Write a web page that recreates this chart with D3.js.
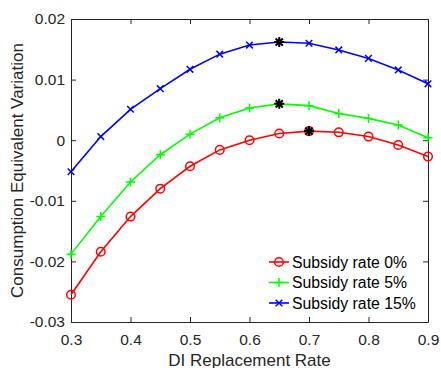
<!DOCTYPE html>
<html><head><meta charset="utf-8">
<script src="https://cdn.jsdelivr.net/npm/d3@7"></script>
<style>body{margin:0;background:#fff}svg{display:block}text{font-family:"Liberation Sans",Arial,sans-serif}</style>
</head><body>
<script>
const xs = [0.3,0.35,0.4,0.45,0.5,0.55,0.6,0.65,0.7,0.75,0.8,0.85,0.9];
const sub0 = [-0.0255,-0.0184,-0.0126,-0.0080,-0.0043,-0.0016,0.0000,0.0011,0.0015,0.0013,0.0006,-0.0008,-0.0027];
const sub5 = [-0.0188,-0.0126,-0.0069,-0.0024,0.0010,0.0037,0.0053,0.0060,0.0057,0.0044,0.0036,0.0025,0.0004];
const sub15 = [-0.0052,0.0006,0.0051,0.0085,0.0117,0.0142,0.0157,0.0162,0.0160,0.0149,0.0135,0.0116,0.0093];
const seriesNames = ["Subsidy rate 0%","Subsidy rate 5%","Subsidy rate 15%"];
const xTicks = [0.3,0.4,0.5,0.6,0.7,0.8,0.9];
const yTicks = [-0.03,-0.02,-0.01,0,0.01,0.02];
const yTickLabels = ["-0.03","-0.02","-0.01","0","0.01","0.02"];
const xLabel = "DI Replacement Rate";
const yLabel = "Consumption Equivalent Variation";

const W=441,H=368;
const m={l:71,r:13,t:19,b:46};
const svg=d3.select("body").append("svg").attr("width",W).attr("height",H);
const x=d3.scaleLinear().domain([0.3,0.9]).range([m.l,W-m.r]);
const y=d3.scaleLinear().domain([-0.03,0.02]).range([H-m.b,m.t]);
const axc="#262626";
const tl=5;
const g=svg.append("g");
const fs=15.5;
const xb=g.append("g").attr("transform",`translate(0,${H-m.b})`)
 .call(d3.axisBottom(x).tickValues(xTicks).tickFormat(d3.format(".1f")).tickSizeInner(-tl).tickSizeOuter(0).tickPadding(12));
const xt=g.append("g").attr("transform",`translate(0,${m.t})`)
 .call(d3.axisTop(x).tickValues(xTicks).tickFormat("").tickSizeInner(-tl).tickSizeOuter(0));
const yl=g.append("g").attr("transform",`translate(${m.l},0)`)
 .call(d3.axisLeft(y).tickValues(yTicks).tickFormat((d,i)=>yTickLabels[i]).tickSizeInner(-tl).tickSizeOuter(0).tickPadding(6));
const yr=g.append("g").attr("transform",`translate(${W-m.r},0)`)
 .call(d3.axisRight(y).tickValues(yTicks).tickFormat("").tickSizeInner(-tl).tickSizeOuter(0));
[xb,xt,yl,yr].forEach(a=>{a.selectAll("path,line").attr("stroke",axc).attr("stroke-width",1);
 a.selectAll("text").attr("fill",axc).style("font-size",fs+"px").style("font-family","'Liberation Sans',Arial,sans-serif");});
svg.append("text").attr("x",(m.l+W-m.r)/2).attr("y",366).attr("text-anchor","middle")
 .style("font-size","17px").attr("fill",axc).text(xLabel);
svg.append("text").attr("transform",`translate(23,${(m.t+H-m.b)/2}) rotate(-90)`).attr("text-anchor","middle")
 .style("font-size","17px").attr("fill",axc).text(yLabel);

const cols=["#ff0000","#00ff00","#0000ff"];
const data=[sub0,sub5,sub15];
const line=d3.line().x((d,i)=>x(xs[i])).y(d=>y(d));
function marker(sel,k,cx,cy){
  const c=cols[k];
  if(k===0) sel.append("circle").attr("cx",cx).attr("cy",cy).attr("r",4.3).attr("fill","none").attr("stroke",c).attr("stroke-width",1.5);
  else if(k===1){ const s=4.5; sel.append("path").attr("d",`M${cx-s},${cy}H${cx+s}M${cx},${cy-s}V${cy+s}`).attr("stroke",c).attr("stroke-width",1.5);}
  else { const s=3.3; sel.append("path").attr("d",`M${cx-s},${cy-s}L${cx+s},${cy+s}M${cx-s},${cy+s}L${cx+s},${cy-s}`).attr("stroke",c).attr("stroke-width",1.5);}
}
data.forEach((vals,k)=>{
  const gg=svg.append("g");
  gg.append("path").attr("d",line(vals)).attr("fill","none").attr("stroke",cols[k]).attr("stroke-width",1.6);
  vals.forEach((v,i)=>marker(gg,k,x(xs[i]),y(v)));
});
data.forEach(vals=>{
  const i=d3.maxIndex(vals); const cx=x(xs[i]), cy=y(vals[i]); const s=5, d=3.6;
  svg.append("path").attr("d",`M${cx-s},${cy}H${cx+s}M${cx},${cy-s}V${cy+s}M${cx-d},${cy-d}L${cx+d},${cy+d}M${cx-d},${cy+d}L${cx+d},${cy-d}`)
   .attr("stroke","#000").attr("stroke-width",2);
});
const lg=svg.append("g");
seriesNames.forEach((nm,k)=>{
  const yy=262+k*20.5;
  lg.append("line").attr("x1",269).attr("x2",289).attr("y1",yy).attr("y2",yy).attr("stroke",cols[k]).attr("stroke-width",1.6);
  marker(lg,k,279,yy);
  lg.append("text").attr("x",292).attr("y",yy+5.6).style("font-size","15.8px").attr("fill","#000").text(nm);
});
</script>
</body></html>
